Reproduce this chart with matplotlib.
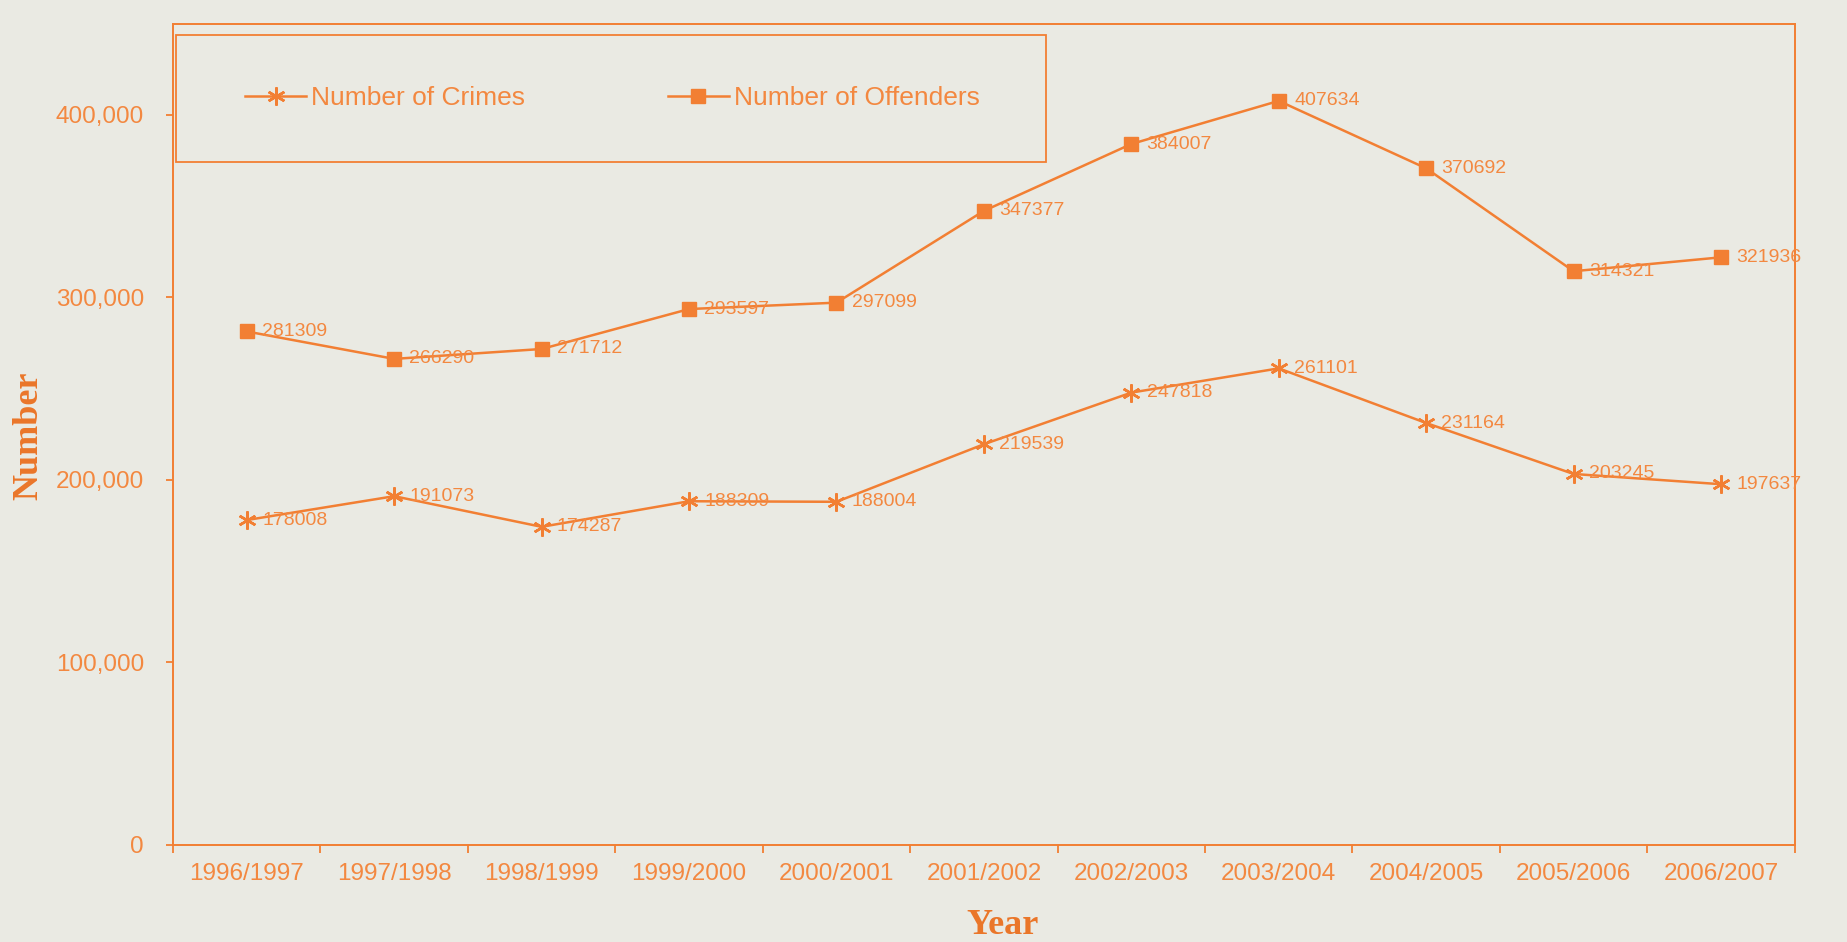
import matplotlib
matplotlib.use("Agg")
import matplotlib.pyplot as plt
import numpy as np
from matplotlib.patches import Rectangle
from matplotlib.ticker import FixedLocator, FuncFormatter

years = ["1996/1997", "1997/1998", "1998/1999", "1999/2000", "2000/2001",
         "2001/2002", "2002/2003", "2003/2004", "2004/2005", "2005/2006",
         "2006/2007"]
crimes = [178008, 191073, 174287, 188309, 188004, 219539,
          247818, 261101, 231164, 203245, 197637]
offenders = [281309, 266290, 271712, 293597, 297099, 347377,
             384007, 407634, 370692, 314321, 321936]
y_ticks = [0, 100000, 200000, 300000, 400000]

paper = "#eaeae3"
line_col = "#f27f33"
text_col = "#f38840"
title_col = "#ea7629"

plt.rcParams["font.family"] = ["Liberation Sans", "DejaVu Sans"]

fig = plt.figure(figsize=(18.47, 9.42), dpi=100, facecolor=paper)
ax = fig.add_axes([0.0937, 0.103, 0.878, 0.872])
ax.set_facecolor(paper)

x = np.arange(len(years))
ax.plot(x, crimes, color=line_col, lw=1.8, marker=(6, 2, 0), ms=13,
        mew=1.8, label="Number of Crimes")
ax.plot(x, offenders, color=line_col, lw=1.8, marker="s", ms=10.5,
        label="Number of Offenders")

# value labels just right of each marker
for xi, v in zip(x, crimes):
    ax.annotate(str(v), (xi, v), xytext=(11, 0), textcoords="offset points",
                va="center", ha="left", fontsize=14, color=text_col)
for xi, v in zip(x, offenders):
    ax.annotate(str(v), (xi, v), xytext=(11, 0), textcoords="offset points",
                va="center", ha="left", fontsize=14, color=text_col)

ax.set_xlim(-0.5, len(years) - 0.5)
ax.set_ylim(0, 450000)

# ticks sit between categories, labels under the category centres
ax.xaxis.set_major_locator(FixedLocator(np.arange(-0.5, len(years), 1.0)))
ax.xaxis.set_major_formatter(FuncFormatter(lambda v, p: ""))
ax.set_xticks(x, years, minor=True)
ax.tick_params(axis="x", which="major", length=6, width=1.3, color=line_col,
               direction="out")
ax.tick_params(axis="x", which="minor", length=0, pad=13, labelsize=17.5,
               labelcolor=text_col)

ax.set_yticks(y_ticks)
ax.yaxis.set_major_formatter(FuncFormatter(lambda v, p: f"{int(v):,}"))
ax.tick_params(axis="y", length=5, width=1.3, color=line_col, pad=16,
               labelsize=17.5, labelcolor=text_col)

for s in ax.spines.values():
    s.set_color(line_col)
    s.set_linewidth(1.4)

# legend box in the upper-left corner, entries centred inside it
box = (0.002, 0.832, 0.536, 0.154)
ax.add_patch(Rectangle(box[:2], box[2], box[3], transform=ax.transAxes,
                       fill=False, edgecolor=line_col, lw=1.3, zorder=4))
leg = ax.legend(loc="center", bbox_to_anchor=(box[0] + box[2] / 2 + 0.001,
                                              box[1] + box[3] / 2),
                ncol=2, frameon=False, borderpad=0, handlelength=2.3,
                handletextpad=0.2, columnspacing=5.4, fontsize=19)
for t in leg.get_texts():
    t.set_color(text_col)

fig.text(0.0157, 0.537, "Number", rotation=90, ha="center", va="center",
         fontsize=26, fontweight="bold", color=title_col,
         family=["Liberation Serif", "DejaVu Serif"])
fig.text(0.5426, 0.018, "Year", ha="center", va="center",
         fontsize=26, fontweight="bold", color=title_col,
         family=["Liberation Serif", "DejaVu Serif"])

fig.savefig("out.png", dpi=100, facecolor=paper)
